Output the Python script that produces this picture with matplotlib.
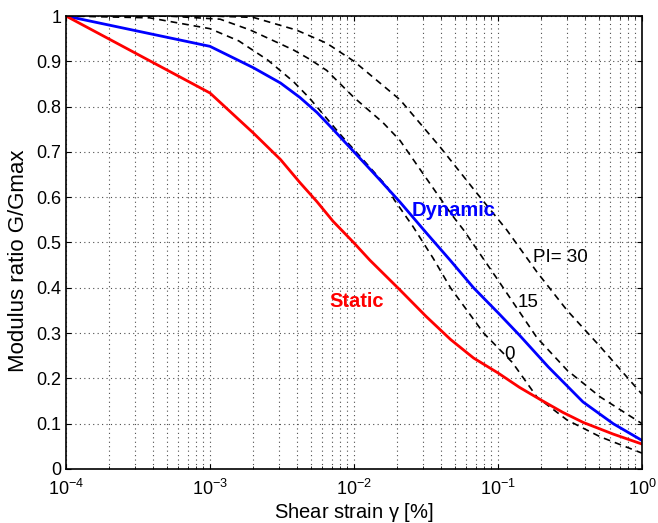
import numpy as np
import matplotlib.pyplot as plt

plt.rcParams['font.family'] = ['Liberation Sans', 'DejaVu Sans']
plt.rcParams['mathtext.fontset'] = 'custom'
plt.rcParams['mathtext.rm'] = 'Liberation Sans'
plt.rcParams['mathtext.it'] = 'Liberation Sans'

# curves (x given as log10 of strain in %)
static_logx = [-4, -3, -2.7, -2.51, -2.375, -2.257, -2.146, -2.0, -1.89, -1.68, -1.5,
               -1.33, -1.17, -1.0, -0.85, -0.7, -0.55, -0.41, -0.2, 0]
static_g = [1.0, 0.83, 0.742, 0.683, 0.632, 0.59, 0.547, 0.499, 0.461, 0.395, 0.337,
            0.286, 0.245, 0.212, 0.18, 0.152, 0.125, 0.103, 0.077, 0.055]

dyn_logx = [-4, -3, -2.7, -2.51, -2.375, -2.257, -2.146, -2.0, -1.84, -1.68, -1.5,
            -1.33, -1.17, -1.0, -0.85, -0.65, -0.41, -0.2, 0]
dyn_g = [1.0, 0.933, 0.886, 0.852, 0.82, 0.787, 0.75, 0.70, 0.645, 0.589, 0.522,
         0.46, 0.40, 0.345, 0.295, 0.225, 0.148, 0.10, 0.063]

pi0_logx = [-4, -3.42, -3, -2.8, -2.6, -2.42, -2.31, -2.08, -1.98, -1.77, -1.72, -1.59,
            -1.45, -1.33, -1.1, -0.9, -0.73, -0.52, -0.29, 0]
pi0_g = [1.0, 0.996, 0.972, 0.945, 0.903, 0.855, 0.819, 0.733, 0.698, 0.623, 0.594, 0.535,
         0.465, 0.40, 0.30, 0.235, 0.159, 0.108, 0.071, 0.035]

pi15_logx = [-4, -3.3, -2.93, -2.72, -2.42, -2.31, -2.19, -2.0, -1.8, -1.68, -1.56, -1.33,
             -1.24, -1.0, -0.73, -0.52, -0.29, 0]
pi15_g = [1.0, 1.0, 0.993, 0.969, 0.925, 0.905, 0.88, 0.82, 0.765, 0.725, 0.67, 0.565,
          0.528, 0.417, 0.29, 0.218, 0.159, 0.10]

pi30_logx = [-4, -3.0, -2.7, -2.4, -2.19, -2.0, -1.68, -1.4, -1.15, -0.94, -0.73, -0.52,
             -0.29, 0]
pi30_g = [1.0, 1.0, 0.997, 0.969, 0.94, 0.90, 0.815, 0.71, 0.61, 0.528, 0.435, 0.35,
          0.27, 0.165]

ytick_labels = ['0', '0.1', '0.2', '0.3', '0.4', '0.5', '0.6', '0.7', '0.8', '0.9', '1']

fig = plt.figure(figsize=(6.58, 5.23), dpi=100)
ax = fig.add_axes([0.1003, 0.1033, 0.8754, 0.8661])

for lx, g in [(pi0_logx, pi0_g), (pi15_logx, pi15_g), (pi30_logx, pi30_g)]:
    ax.plot(10 ** np.array(lx), g, 'k--', lw=1.2, dashes=(4, 3))
ax.plot(10 ** np.array(dyn_logx), dyn_g, color='#0000ff', lw=2)
ax.plot(10 ** np.array(static_logx), static_g, color='#ff0000', lw=2)

ax.set_xscale('log')
ax.set_xlim(1e-4, 1)
ax.set_ylim(0, 1)
ax.set_yticks(np.linspace(0, 1, 11))
ax.set_yticklabels(ytick_labels)
ax.grid(True, which='major', ls=(0, (1, 3)), color='0.3', lw=0.8)
ax.grid(True, which='minor', axis='x', ls=(0, (1, 3)), color='0.3', lw=0.8)
ax.tick_params(which='both', direction='in', top=True, right=True, labelsize=13)
ax.tick_params(axis='x', pad=7)
for s in ax.spines.values():
    s.set_linewidth(1.2)

ax.set_xlabel(r'Shear strain $\gamma$ [%]', fontsize=14.5)
ax.set_ylabel('Modulus ratio G/Gmax', fontsize=16)
ax.yaxis.set_label_coords(-0.064, 0.46)
ax.xaxis.set_label_coords(0.5, -0.07)

ax.text(10 ** -1.31, 0.571, 'Dynamic', color='#0000ff', fontsize=14.5, fontweight='bold',
        ha='center', va='center')
ax.text(10 ** -1.98, 0.370, 'Static', color='#ff0000', fontsize=14.5, fontweight='bold',
        ha='center', va='center')
ax.text(10 ** -0.76, 0.467, 'PI= 30', fontsize=13.5, ha='left', va='center')
ax.text(10 ** -0.867, 0.368, '15', fontsize=13.5, ha='left', va='center')
ax.text(10 ** -0.954, 0.252, '0', fontsize=13.5, ha='left', va='center')

fig.savefig('out.png', dpi=100)
